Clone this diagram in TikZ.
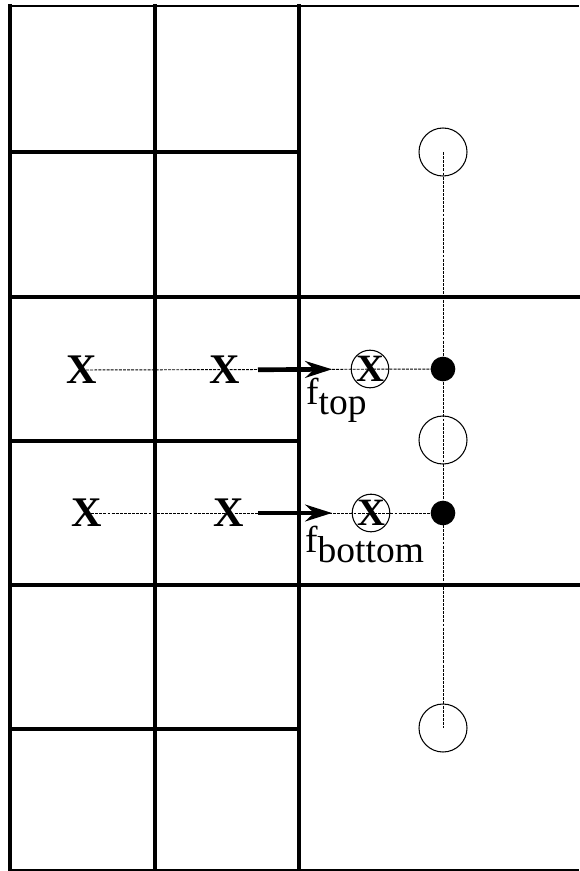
\documentclass[tikz,border=0pt]{standalone}
\usepackage{fontspec}
\setmainfont{Liberation Serif}
\usetikzlibrary{arrows.meta, positioning, calc}

\begin{document}
\begin{tikzpicture}[
  x=0.03cm, y=-0.03cm,
  >={Stealth[length=0.8cm, width=0.5cm, inset=0.26cm]},
  gridline/.style={line width=0.12cm, line cap=rect},
  guide/.style={dash pattern=on 2.5pt off 1pt, line width=0.8pt},
  xmark/.style={font=\fontsize{36}{36}\selectfont\bfseries, inner sep=0pt},
  cxmark/.style={circle, draw, line width=0.9pt, minimum size=1.04cm,
    inner sep=0pt, font=\fontsize{33}{33}\selectfont\bfseries},
  ghost/.style={circle, draw, line width=0.9pt, minimum size=1.44cm, inner sep=0pt},
  face/.style={circle, fill=black, minimum size=0.74cm, inner sep=0pt},
  flux/.style={->, line width=0.14cm},
  flab/.style={font=\fontsize{32}{32}\selectfont, inner sep=0pt, anchor=base west},
]

% Dimensions (1 unit = 1 px of the sketch, y downward)
% coarse cells right of x=299, fine cells left of it
\useasboundingbox (0,0) rectangle (579,871);

% --- Outer frame ---
\draw[line width=0.06cm] (8,6) -- (579,6);
\draw[line width=0.06cm] (8,870) -- (579,870);
\draw[gridline] (10,6) -- (10,871);

% --- Fine grid (left two columns) ---
\draw[gridline] (155,6) -- (155,871);
\draw[gridline] (299,6) -- (299,871);
\foreach \yy in {152,441,729}
  \draw[gridline] (10,\yy) -- (299,\yy);

% --- Coarse grid lines, full width ---
\foreach \yy in {297,585}
  \draw[gridline] (10,\yy) -- (579,\yy);

% --- Coarse cell centres ---
\node[ghost] (g1) at (443,152) {};
\node[ghost] (g2) at (443,440) {};
\node[ghost] (g3) at (443,728) {};

% --- Face points ---
\node[face] (dota) at (443,369) {};
\node[face] (dotb) at (443,513) {};

% --- Fine cell centres, top row ---
\node[xmark]  (xa1) at (82,370) {X};
\node[xmark]  (xa2) at (225,370) {X};
\node[cxmark] (cxa) at (370,369) {X};

% --- Fine cell centres, bottom row ---
\node[xmark]  (xb1) at (87,513) {X};
\node[xmark]  (xb2) at (229,513) {X};
\node[cxmark] (cxb) at (371,513) {X};

% --- Interpolation lines ---
\draw[guide] (g1.center) -- (g3.center);
\draw[guide] (xa1.center) -- (dota.center);
\draw[guide] (xb1.center) -- (dotb.center);

% --- Fluxes ---
\draw[flux, shorten <=0.99cm, shorten >=1.14cm] (xa2.center) -- (cxa.center);
\draw[flux, shorten <=0.87cm, shorten >=1.17cm] (xb2.center) -- (cxb.center);

\node[flab] (fta) at (306,404) {f\raisebox{-0.28em}{top}};
\node[flab] (ftb) at (305,552) {f\raisebox{-0.28em}{bottom}};

\end{tikzpicture}
\end{document}
